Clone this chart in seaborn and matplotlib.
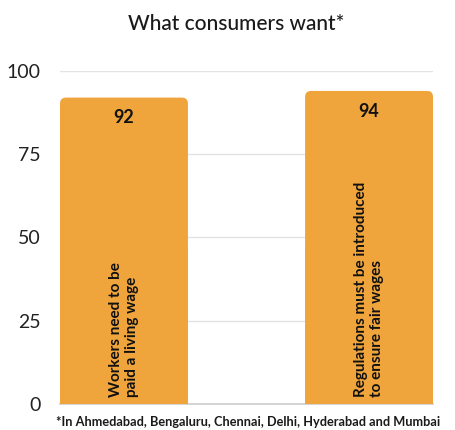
import matplotlib
matplotlib.use("Agg")
import matplotlib.pyplot as plt
import seaborn as sns
import pandas as pd
from matplotlib.patches import FancyBboxPatch

categories = ["Workers need to be\npaid a living wage",
              "Regulations must be introduced\nto ensure fair wages"]
values = [92, 94]
yticks = [0, 25, 50, 75, 100]
title = "What consumers want*"
footnote = "*In Ahmedabad, Bengaluru, Chennai, Delhi, Hyderabad and Mumbai"

sns.set_theme(style="white")
plt.rcParams['font.family'] = ['Lato', 'DejaVu Sans']

df = pd.DataFrame({"cat": categories, "val": values})
color = "#EFA43C"

fig = plt.figure(figsize=(4.56, 4.30), dpi=100)
ax = fig.add_axes([0.1316, 0.0605, 0.818, 0.7745])
sns.barplot(data=df, x="cat", y="val", color=color, width=0.522, ax=ax,
            saturation=1, zorder=3)

ax.set_xlim(-0.261, 1.261)
ax.set_ylim(0, 100)

# pixel scale for rounded corners
fig.canvas.draw()
bb = ax.get_window_extent()
px_x = bb.width / (1.261 + 0.261)
px_y = bb.height / 100.0
r_px = 6.0

for p in list(ax.patches):
    x0, y0 = p.get_x(), p.get_y()
    w, h = p.get_width(), p.get_height()
    p.set_visible(False)
    fb = FancyBboxPatch((x0, y0), w, h,
                        boxstyle=f"round,pad=0,rounding_size={r_px / px_x}",
                        mutation_aspect=px_x / px_y, facecolor=color,
                        edgecolor="none", zorder=3)
    ax.add_patch(fb)
    ax.add_patch(plt.Rectangle((x0, y0), w, h * 0.5, facecolor=color,
                               edgecolor="none", zorder=3))

ax.set_yticks(yticks)
ax.set_yticklabels([str(t) for t in yticks], fontsize=14, color="#222222")
ax.tick_params(axis='y', length=0, pad=14)
ax.set_xticks([])
ax.set_xlabel("")
ax.set_ylabel("")
for t in yticks[1:]:
    ax.axhline(t, color="#e3e3e3", lw=1, zorder=1)
for s in ["top", "right", "left"]:
    ax.spines[s].set_visible(False)
ax.spines["bottom"].set_color("#cccccc")
ax.spines["bottom"].set_linewidth(1.2)

for i, (c, v) in enumerate(zip(categories, values)):
    ax.text(i, v - 3.5, str(v), ha="center", va="top", fontsize=13,
            fontweight="bold", color="#111111", zorder=4)
    ax.text(i, 2, c, rotation=90, ha="center", va="bottom", fontsize=11,
            fontweight="bold", color="#111111", linespacing=1.25,
            multialignment="left", zorder=4)

fig.text(0.518, 0.945, title, ha="center", va="center", fontsize=15,
         fontweight="medium", color="#1a1a1a")
fig.text(0.122, 0.018, footnote, ha="left", va="center", fontsize=9.2,
         fontweight="bold", color="#1a1a1a")

fig.savefig("out.png", dpi=100)
